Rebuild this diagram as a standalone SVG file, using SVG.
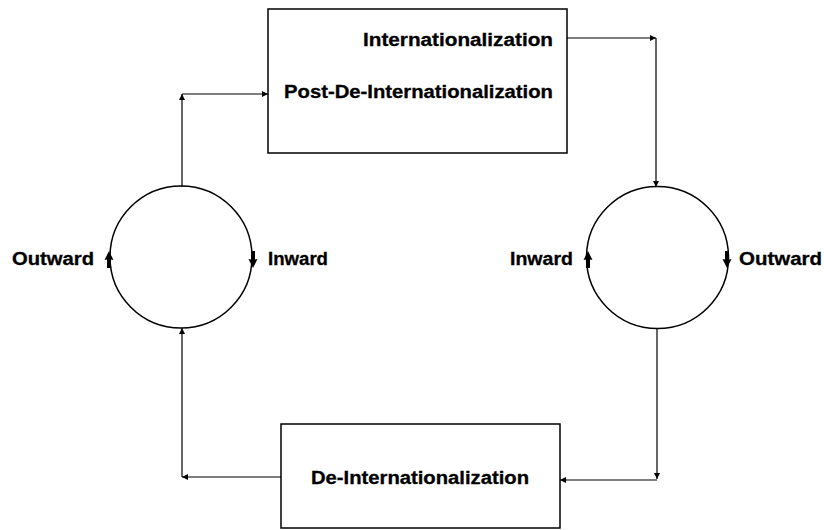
<svg xmlns="http://www.w3.org/2000/svg" width="824" height="530" viewBox="0 0 824 530">
<defs>
<style>
.box{fill:#fff;stroke:#000;stroke-width:1.5}
.circ{fill:none;stroke:#000;stroke-width:1.5}
.ln{fill:none;stroke:#000;stroke-width:1.2;marker-end:url(#ah)}
.t{font-family:"Liberation Sans",Arial,Helvetica,sans-serif;font-weight:bold;font-size:18px;fill:#000;stroke:#000;stroke-width:0.3}
.big{fill:#000}
</style>
<marker id="ah" viewBox="0 0 10 10" refX="10" refY="5" markerWidth="9" markerHeight="6" markerUnits="userSpaceOnUse" orient="auto">
<path d="M0,0 L10,5 L0,10 z" fill="#000"/>
</marker>
</defs>
<rect width="824" height="530" fill="#fff"/>

<g id="connectors">
<line class="ln" x1="182" y1="187" x2="182" y2="94"/>
<line class="ln" x1="182" y1="94" x2="268" y2="94"/>
<line class="ln" x1="567" y1="38" x2="656" y2="38"/>
<line class="ln" x1="656" y1="38" x2="656" y2="187"/>
<line class="ln" x1="657" y1="328" x2="657" y2="479"/>
<line class="ln" x1="657" y1="480" x2="560" y2="480"/>
<line class="ln" x1="281" y1="477" x2="182" y2="477"/>
<line class="ln" x1="182" y1="477" x2="182" y2="328"/>
</g>

<g id="internationalization">
<rect class="box" x="268" y="9" width="299" height="144"/>
<text class="t" x="553" y="46" text-anchor="end" textLength="190" lengthAdjust="spacingAndGlyphs">Internationalization</text>
<text class="t" x="553" y="98" text-anchor="end" textLength="269" lengthAdjust="spacingAndGlyphs">Post-De-Internationalization</text>
</g>

<g id="de-internationalization">
<rect class="box" x="281" y="424" width="279" height="104"/>
<text class="t" x="311" y="484" textLength="218" lengthAdjust="spacingAndGlyphs">De-Internationalization</text>
</g>

<g id="left-cycle">
<circle class="circ" cx="181" cy="257" r="71"/>
<path class="big" d="M104.5,260 L109,251 L113.5,260 L111,259.5 L111,268 L107,268 L107,259.5 z"/>
<path class="big" d="M248.5,259 L253,268 L257.5,259 L255,259.5 L255,251 L251,251 L251,259.5 z"/>
<text class="t" x="12" y="265" textLength="82" lengthAdjust="spacingAndGlyphs">Outward</text>
<text class="t" x="268" y="265" textLength="60" lengthAdjust="spacingAndGlyphs">Inward</text>
</g>

<g id="right-cycle">
<circle class="circ" cx="657.5" cy="257.5" r="71"/>
<path class="big" d="M583.5,260 L588,251 L592.5,260 L590,259.5 L590,268 L586,268 L586,259.5 z"/>
<path class="big" d="M722.5,259 L727,268 L731.5,259 L729,259.5 L729,251 L725,251 L725,259.5 z"/>
<text class="t" x="510" y="265" textLength="63" lengthAdjust="spacingAndGlyphs">Inward</text>
<text class="t" x="739" y="265" textLength="83" lengthAdjust="spacingAndGlyphs">Outward</text>
</g>
</svg>
